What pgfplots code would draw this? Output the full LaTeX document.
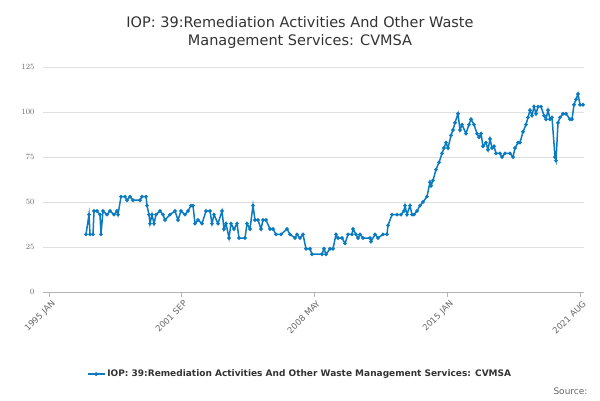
\documentclass[border=0pt]{standalone}
\usepackage{pgfplots}
\pgfplotsset{compat=1.18}
\usepackage{fontspec}
\setmainfont{DejaVu Sans}
\definecolor{ln}{HTML}{0A7BC1}
\definecolor{tk}{HTML}{666666}
\begin{document}
\begin{tikzpicture}
\path[use as bounding box] (0pt,0pt) rectangle (600pt,400pt);
\node[align=center,font=\fontsize{14.5}{18}\selectfont,text=black!80] at (300pt,367pt) {IOP: 39:Remediation Activities And Other Waste\\Management Services: CVMSA};
\begin{axis}[at={(43pt,108pt)},anchor=south west,scale only axis,width=541pt,height=225pt,
 xmin=43,xmax=584,ymin=0,ymax=125,
 axis x line*=bottom, axis y line*=left, y axis line style={draw=none},
 ytick={0,25,50,75,100,125},ymajorgrids,grid style={gray!25},
 ytick style={draw=none},
 y tick label style={font=\fontsize{8.5}{10}\selectfont,text=tk},
 xtick={49,181,314,447,580},xticklabels={1995 JAN,2001 SEP,2008 MAY,2015 JAN,2021 AUG},
 x tick label style={rotate=45,anchor=north east,font=\fontsize{8.5}{10}\selectfont,text=tk,xshift=3pt},
 major tick length=5pt, x axis line style={gray!60}, xtick style={gray!60},
 tick align=outside,
 legend style={at={(0.475,-0.365)},anchor=center,draw=none,font=\fontsize{9}{11}\selectfont\bfseries,text=black!80},
 clip=false]
\addplot[ln,line width=1.5pt,mark=*,mark size=1pt] coordinates {
(86,32)(89,43)(90,32)(93,32)(94,45)(97,45)(100,43)(101,32)(103,45)(107,43)(110,45)(114,43)(117,45)(118,43)(121,53)(125,53)(127,51)(130,53)(133,51)(140,51)(142,53)(146,53)(147,48)(149,43)(150,38)(152,43)(154,38)(156,43)(160,45)(163,43)(165,40)(170,43)(175,45)(178,40)(181,45)(185,43)(188,45)(191,48)(193,48)(195,38)(198,40)(202,38)(206,45)(210,45)(212,38)(214,43)(218,38)(222,45)(224,35)(226,38)(229,30)(231,38)(234,35)(237,38)(239,30)(245,30)(247,38)(250,35)(253,48)(255,40)(258,40)(261,35)(263,40)(266,40)(270,35)(273,35)(276,32)(281,32)(287,35)(290,32)(295,30)(297,32)(300,30)(303,32)(306,24)(310,24)(312,21)(322,21)(324,24)(326,21)(330,24)(333,24)(336,32)(338,30)(342,30)(345,27)(348,32)(352,32)(353,35)(356,32)(358,30)(360,32)(363,30)(370,30)(371,28)(375,32)(378,30)(383,32)(387,32)(388,37)(392,43)(397,43)(401,43)(404,45)(405,48)(407,43)(410,48)(412,43)(414,43)(417,45)(420,48)(423,50)(427,53)(430,61)(431,59)(433,62)(436,68)(439,72)(442,77)(444,80)(446,83)(448,80)(451,87)(453,90)(455,94)(458,99)(460,90)(462,93)(466,88)(469,93)(471,96)(474,93)(477,88)(479,86)(481,88)(483,81)(486,83)(488,79)(490,85)(492,80)(494,81)(496,77)(500,77)(502,75)(505,77)(510,77)(513,75)(515,80)(518,83)(520,83)(523,89)(526,93)(528,97)(530,101)(532,98)(534,103)(536,99)(538,103)(541,103)(544,98)(546,96)(548,101)(550,96)(552,97)(555,75)(556,73)(558,94)(560,97)(563,99)(566,99)(570,96)(572,96)(574,104)(576,107)(578,110)(580,104)(583,104)};
\addlegendentry{IOP: 39:Remediation Activities And Other Waste Management Services: CVMSA}
\end{axis}
\node[anchor=east,font=\fontsize{9}{11}\selectfont,text=tk] at (591pt,9pt) {Source:};
\end{tikzpicture}
\end{document}
